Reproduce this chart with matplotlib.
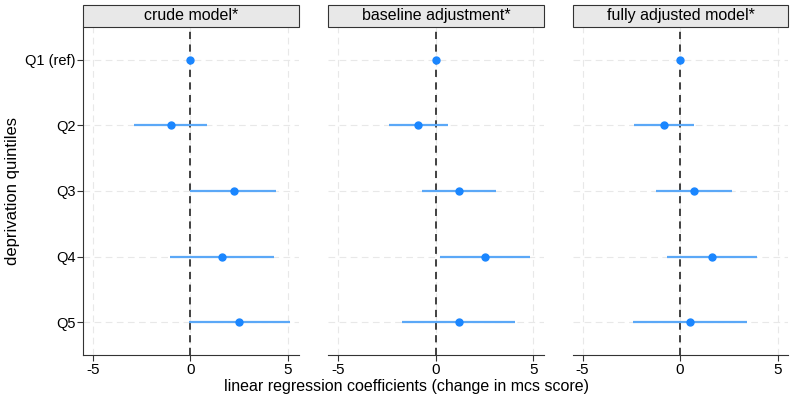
import numpy as np
import matplotlib
matplotlib.use('Agg')
import matplotlib.pyplot as plt
from matplotlib.patches import Rectangle

plt.rcParams['font.family'] = ['Liberation Sans', 'DejaVu Sans']

# dados
quintiles = ['Q1 (ref)', 'Q2', 'Q3', 'Q4', 'Q5']
panels = ['crude model*', 'baseline adjustment*', 'fully adjusted model*']

crude_est = [0, -1.01, 2.24, 1.62, 2.50]
crude_lo = [0, -2.89, 0.00, -1.06, -0.09]
crude_hi = [0, 0.87, 4.41, 4.29, 5.09]

base_est = [0, -0.89, 1.19, 2.54, 1.19]
base_lo = [0, -2.39, -0.72, 0.24, -1.71]
base_hi = [0, 0.61, 3.09, 4.83, 4.08]

full_est = [0, -0.80, 0.71, 1.63, 0.51]
full_lo = [0, -2.35, -1.24, -0.68, -2.43]
full_hi = [0, 0.73, 2.67, 3.93, 3.44]

est = [crude_est, base_est, full_est]
lo = [crude_lo, base_lo, full_lo]
hi = [crude_hi, base_hi, full_hi]

fig = plt.figure(figsize=(7.9, 4.01), dpi=100)
lefts = [0.105, 0.4156, 0.725]
w = 0.273
bottom = 0.1147
h = 0.818
y = np.arange(1, 6)

for i in range(3):
    ax = fig.add_axes([lefts[i], bottom, w, h])
    ax.set_xlim(-5.5, 5.55)
    ax.set_ylim(5.5, 0.5)
    # grade
    for g in [-5, 0, 5]:
        ax.axvline(g, color='#e8e8e8', lw=0.8, ls=(0, (6, 4)), zorder=0)
    for yy in y:
        ax.axhline(yy, color='#e8e8e8', lw=0.8, ls=(0, (6, 4)), zorder=0)
    ax.axvline(0, color='#333333', lw=1.3, ls=(0, (4, 3)), zorder=1)
    ax.hlines(y, lo[i], hi[i], color='#5ba8f7', lw=1.6, zorder=2)
    ax.plot(est[i], y, 'o', color='#1a86ff', ms=5, zorder=3)

    ax.set_xticks([-5, 0, 5])
    ax.set_xticklabels(['-5', '0', '5'], fontsize=11)
    ax.tick_params(axis='x', length=4, width=0.8, color='#333333', pad=2)
    ax.spines['top'].set_visible(False)
    ax.spines['right'].set_visible(False)
    ax.spines['bottom'].set_color('#333333')
    if i == 0:
        ax.set_yticks(y)
        ax.set_yticklabels(quintiles, fontsize=10.5)
        ax.tick_params(axis='y', length=4.5, width=0.8, color='#333333', pad=1)
        ax.spines['left'].set_color('#333333')
        ax.set_ylabel('deprivation quintiles', fontsize=12)
        ax.yaxis.set_label_coords(-0.29, 0.5)
    else:
        ax.set_yticks([])
        ax.spines['left'].set_visible(False)

    # caixa do titulo
    box = Rectangle((0, 1.0), 1, 22 / 401 / h, transform=ax.transAxes,
                    facecolor='#e8e8e8', edgecolor='#333333', lw=0.8, clip_on=False)
    ax.add_patch(box)
    ax.text(0.5, 1.0 + 11 / 401 / h, panels[i], transform=ax.transAxes,
            ha='center', va='center', fontsize=11.5)

fig.text(0.515, 0.037, 'linear regression coefficients (change in mcs score)',
         ha='center', va='center', fontsize=11.5)

plt.savefig('out.png', dpi=100)
